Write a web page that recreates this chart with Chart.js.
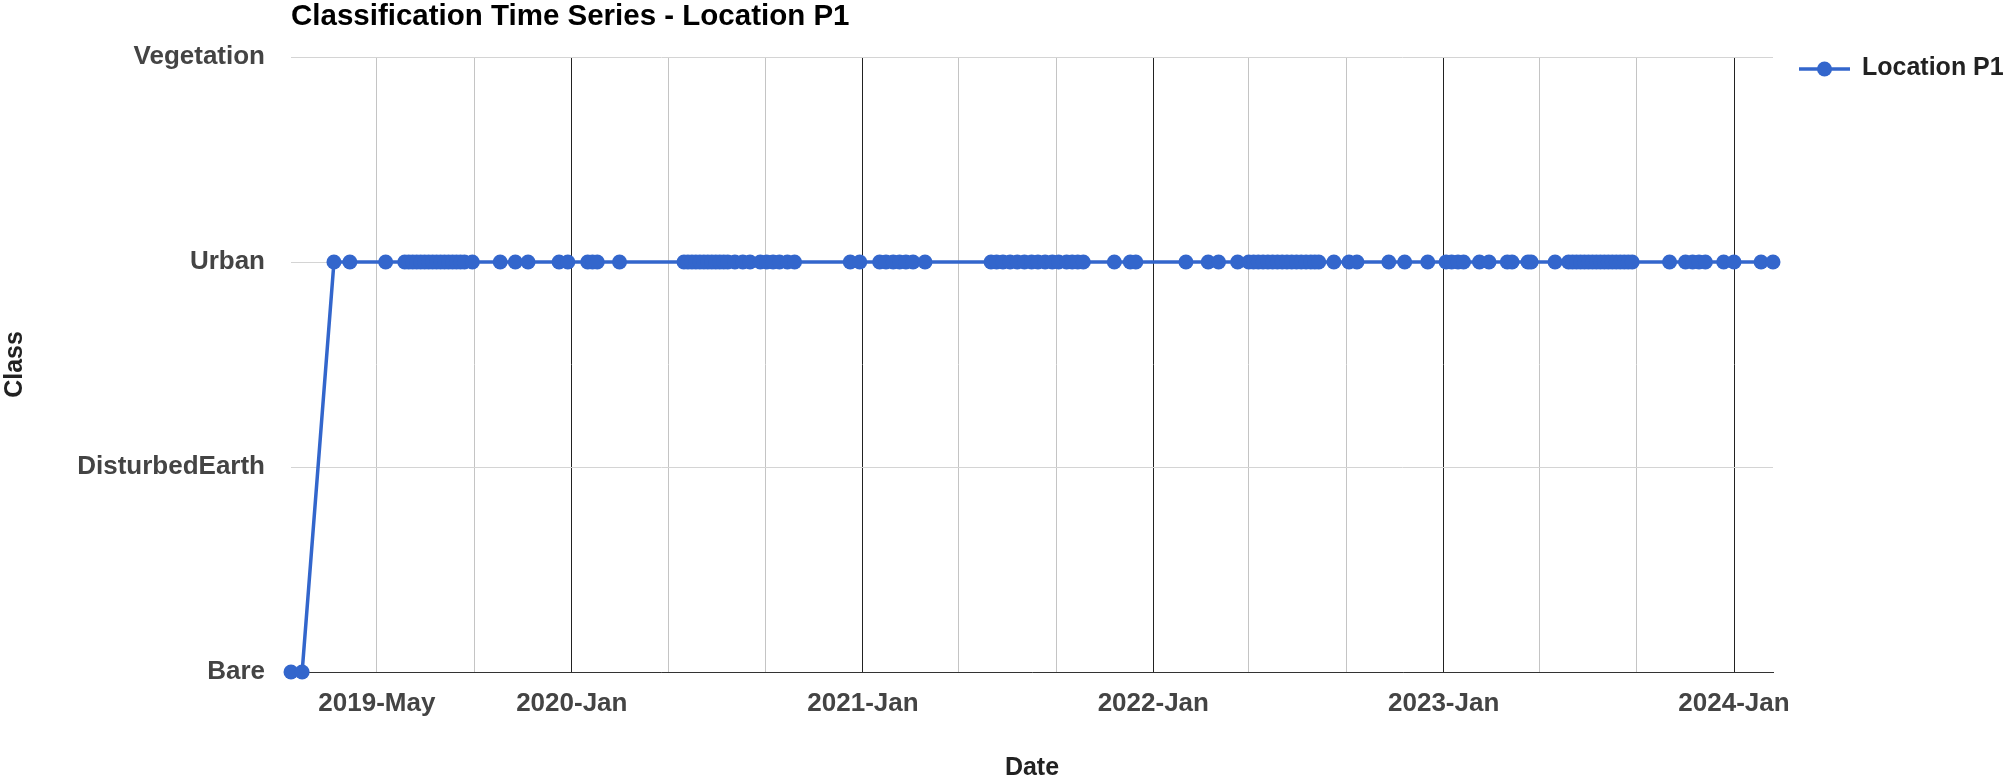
<!DOCTYPE html>
<html>
<head>
<meta charset="utf-8">
<title>Classification Time Series - Location P1</title>
<script src="https://cdn.jsdelivr.net/npm/chart.js@4.4.1/dist/chart.umd.min.js"></script>
<style>
    html, body { margin: 0; padding: 0; background: #fff; }
    #wrap { position: relative; width: 2006px; height: 781px; }
</style>
</head>
<body>
<div id="wrap"><canvas id="classChart"></canvas></div>
<script>
// Class names on the vertical axis, bottom to top
const classNames = ['Bare', 'DisturbedEarth', 'Urban', 'Vegetation'];

const obsDates = [
    '2019-01-13', '2019-01-27', '2019-03-08', '2019-03-28', '2019-05-12',
    '2019-06-05', '2019-06-10', '2019-06-15', '2019-06-20', '2019-06-25', '2019-06-30',
    '2019-07-05', '2019-07-10', '2019-07-15', '2019-07-20', '2019-07-25', '2019-07-30',
    '2019-08-04', '2019-08-09', '2019-08-14', '2019-08-19', '2019-08-29',
    '2019-10-03', '2019-10-22', '2019-11-07', '2019-12-16', '2019-12-27',
    '2020-01-21', '2020-01-27', '2020-02-02', '2020-03-01',
    '2020-05-21', '2020-05-26', '2020-05-31', '2020-06-05', '2020-06-10', '2020-06-15',
    '2020-06-20', '2020-06-25', '2020-06-30', '2020-07-05', '2020-07-10', '2020-07-15',
    '2020-07-24', '2020-08-03', '2020-08-12',
    '2020-08-25', '2020-09-02', '2020-09-10', '2020-09-18', '2020-09-28', '2020-10-07',
    '2020-12-16', '2020-12-28',
    '2021-01-22', '2021-01-30', '2021-02-08', '2021-02-16', '2021-02-24', '2021-03-05',
    '2021-03-20',
    '2021-06-11', '2021-06-18', '2021-06-26', '2021-07-05', '2021-07-14', '2021-07-23',
    '2021-08-01', '2021-08-09', '2021-08-18', '2021-08-27', '2021-09-04', '2021-09-14',
    '2021-09-21', '2021-09-28', '2021-10-05',
    '2021-11-13', '2021-12-03', '2021-12-10',
    '2022-02-11', '2022-03-11', '2022-03-24', '2022-04-17',
    '2022-05-01', '2022-05-07', '2022-05-13', '2022-05-19', '2022-05-25', '2022-05-31',
    '2022-06-06', '2022-06-12', '2022-06-18', '2022-06-24', '2022-06-30', '2022-07-06',
    '2022-07-12', '2022-07-18', '2022-07-23', '2022-07-28',
    '2022-08-16', '2022-09-04', '2022-09-14', '2022-10-24', '2022-11-13', '2022-12-12',
    '2023-01-04', '2023-01-11', '2023-01-19', '2023-01-26',
    '2023-02-15', '2023-02-27', '2023-03-22', '2023-03-28', '2023-04-17', '2023-04-21',
    '2023-05-21',
    '2023-06-07', '2023-06-12', '2023-06-17', '2023-06-22', '2023-06-27', '2023-07-02',
    '2023-07-07', '2023-07-12', '2023-07-17', '2023-07-22', '2023-07-27', '2023-08-01',
    '2023-08-06', '2023-08-11', '2023-08-16', '2023-08-21', '2023-08-26',
    '2023-10-12', '2023-11-01', '2023-11-10', '2023-11-18', '2023-11-26',
    '2023-12-19', '2024-01-01', '2024-02-04', '2024-02-19'
];
// first two dates are Bare, everything after is Urban
const obsClass = obsDates.map((d, i) => (i < 2 ? 'Bare' : 'Urban'));

// Date axis: grid every four months, only some of them labelled
const tickDates = [
    '2019-05-01', '2019-09-01', '2020-01-01', '2020-05-01', '2020-09-01',
    '2021-01-01', '2021-05-01', '2021-09-01', '2022-01-01', '2022-05-01',
    '2022-09-01', '2023-01-01', '2023-05-01', '2023-09-01', '2024-01-01'
];
const tickLabels = [
    '2019-May', '', '2020-Jan', '', '',
    '2021-Jan', '', '', '2022-Jan', '',
    '', '2023-Jan', '', '', '2024-Jan'
];

const seriesName = 'Location P1';
const lineColor = '#3366cc';
const fontFamily = "'Liberation Sans', Arial, sans-serif";

const points = obsDates.map((d, i) => ({ x: Date.parse(d), y: classNames.indexOf(obsClass[i]) }));
const xs = points.map(p => p.x);

Chart.defaults.font.family = fontFamily;

// Title above the plot and the line+dot legend on the right
const headerPlugin = {
    id: 'header',
    afterDraw(chart) {
        const ctx = chart.ctx;
        const area = chart.chartArea;
        ctx.save();
        ctx.fillStyle = '#000';
        ctx.font = 'bold 29.5px ' + fontFamily;
        ctx.textAlign = 'left';
        ctx.textBaseline = 'alphabetic';
        ctx.fillText('Classification Time Series - Location P1', area.left, 25);

        const ly = 69;
        const lx = area.right + 26;
        ctx.strokeStyle = lineColor;
        ctx.lineWidth = 3.5;
        ctx.beginPath();
        ctx.moveTo(lx, ly);
        ctx.lineTo(lx + 51, ly);
        ctx.stroke();
        ctx.fillStyle = lineColor;
        ctx.beginPath();
        ctx.arc(lx + 25.5, ly, 7.5, 0, Math.PI * 2);
        ctx.fill();
        ctx.fillStyle = '#222';
        ctx.font = 'bold 25px ' + fontFamily;
        ctx.textBaseline = 'middle';
        ctx.fillText(seriesName, lx + 63, ly - 1);
        ctx.restore();
    }
};

new Chart(document.getElementById('classChart'), {
    type: 'line',
    data: {
        datasets: [{
            label: seriesName,
            data: points,
            borderColor: lineColor,
            backgroundColor: lineColor,
            borderWidth: 3.5,
            pointRadius: 7.5,
            pointBorderWidth: 0,
            pointBackgroundColor: lineColor,
            tension: 0,
            clip: false
        }]
    },
    options: {
        responsive: true,
        maintainAspectRatio: false,
        animation: false,
        layout: {
            padding: { top: 57, right: 233, bottom: 0, left: 0 }
        },
        plugins: {
            legend: { display: false },
            title: { display: false },
            tooltip: { enabled: false }
        },
        scales: {
            x: {
                type: 'linear',
                bounds: 'data',
                min: Math.min(...xs),
                max: Math.max(...xs),
                afterBuildTicks: scale => {
                    scale.ticks = tickDates.map(d => ({ value: Date.parse(d) }));
                },
                afterFit: scale => { scale.height = 109; },
                ticks: {
                    autoSkip: false,
                    maxRotation: 0,
                    padding: 16,
                    color: '#444',
                    font: { size: 26, weight: 'bold' },
                    callback: (value, index) => tickLabels[index]
                },
                grid: {
                    drawTicks: false,
                    color: ctx => (ctx.tick && new Date(ctx.tick.value).getUTCMonth() === 0 ? '#222' : '#c4c4c4')
                },
                border: { display: true, color: '#333' },
                title: {
                    display: true,
                    text: 'Date',
                    color: '#222',
                    font: { size: 25, weight: 'bold', lineHeight: 1 },
                    padding: { top: 0, bottom: 0 }
                }
            },
            y: {
                min: 0,
                max: 3,
                afterFit: scale => { scale.width = 291; },
                ticks: {
                    stepSize: 1,
                    padding: 26,
                    color: '#444',
                    font: { size: 26, weight: 'bold' },
                    callback: value => classNames[value]
                },
                grid: {
                    drawTicks: false,
                    color: '#d4d4d4'
                },
                border: { display: false },
                title: {
                    display: true,
                    text: 'Class',
                    color: '#222',
                    font: { size: 25, weight: 'bold', lineHeight: 1 },
                    padding: { top: 3, bottom: 0 }
                }
            }
        }
    },
    plugins: [headerPlugin]
});
</script>
</body>
</html>
